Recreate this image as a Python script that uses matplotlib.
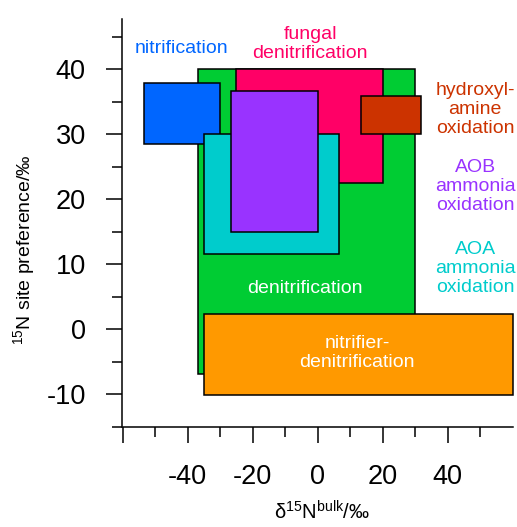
import matplotlib
matplotlib.use("Agg")
import matplotlib.pyplot as plt
from matplotlib.patches import Rectangle

plt.rcParams["font.family"] = ["Liberation Sans", "DejaVu Sans"]
plt.rcParams["mathtext.fontset"] = "custom"
plt.rcParams["mathtext.rm"] = "Liberation Sans"
plt.rcParams["mathtext.it"] = "Liberation Sans:italic"
plt.rcParams["axes.unicode_minus"] = False

# Isotopic signature ranges of N2O production pathways (bulk δ15N and site preference, ‰)
processes = ["denitrification", "fungal denitrification", "nitrification",
             "AOA ammonia oxidation", "AOB ammonia oxidation",
             "hydroxylamine oxidation", "nitrifier-denitrification"]
bulk_min = [-36.8, -25.0, -53.5, -35.0, -26.6, 13.5, -35.0]
bulk_max = [30.0, 20.2, -30.1, 6.6, 0.0, 31.8, 60.2]
sp_min = [-6.9, 22.5, 28.4, 11.6, 15.0, 30.0, -10.1]
sp_max = [40.0, 40.0, 37.9, 30.0, 36.7, 35.8, 2.4]
box_colors = ["#00CC33", "#FF0066", "#0066FF", "#00CCCC", "#9933FF", "#CC3300", "#FF9900"]

# Labels: text, x, y, colour
label_text = ["denitrification", "fungal\ndenitrification", "nitrification",
              "AOA\nammonia\noxidation", "AOB\nammonia\noxidation",
              "hydroxyl-\namine\noxidation", "nitrifier-\ndenitrification"]
label_x = [-3.8, -2.3, -41.9, 48.5, 48.5, 48.5, 12.2]
label_y = [6.2, 43.9, 43.2, 9.3, 21.9, 33.8, -3.7]
label_colors = ["white", "#FF0066", "#0066FF", "#00CCCC", "#9933FF", "#CC3300", "white"]

x_major = [-60, -40, -20, 0, 20, 40]
x_major_labels = ["", "-40", "-20", "0", "20", "40"]
x_minor = [-50, -30, -10, 10, 30, 50]
y_major = [-10, 0, 10, 20, 30, 40]
y_major_labels = ["-10", "0", "10", "20", "30", "40"]
y_minor = [-15, -5, 5, 15, 25, 35, 45]

fig = plt.figure(figsize=(5.17, 5.27), dpi=100)
ax = fig.add_axes([122.5 / 517, (527 - 426.7) / 527, 390 / 517, (426.7 - 19) / 527])
ax.set_xlim(-60, 60)
ax.set_ylim(-15, 47.7)

# draw order: later boxes sit on top
for x0, x1, y0, y1, c in zip(bulk_min, bulk_max, sp_min, sp_max, box_colors):
    ax.add_patch(Rectangle((x0, y0), x1 - x0, y1 - y0, facecolor=c,
                           edgecolor="black", linewidth=1.1, clip_on=False))

for t, x, y, c in zip(label_text, label_x, label_y, label_colors):
    ax.text(x, y, t, color=c, fontsize=14, ha="center", va="center",
            linespacing=1.15, clip_on=False)

for side in ["top", "right"]:
    ax.spines[side].set_visible(False)
for side in ["left", "bottom"]:
    ax.spines[side].set_linewidth(1.1)

ax.set_xticks(x_major)
ax.set_xticklabels(x_major_labels)
ax.set_xticks(x_minor, minor=True)
ax.set_yticks(y_major)
ax.set_yticklabels(y_major_labels)
ax.set_yticks(y_minor, minor=True)
ax.tick_params(which="major", direction="out", length=11.5, width=1.1,
               labelsize=19.5, pad=15, colors="black")
ax.tick_params(which="minor", direction="out", length=7.2, width=1.1)

fig.text(322 / 517, 1 - 519 / 527,
         r"δ$\mathregular{^{15}}$N$\mathregular{^{bulk}}$/‰",
         fontsize=14.5, ha="center", va="baseline")
fig.text(24 / 517, 1 - 250 / 527,
         r"$\mathregular{^{15}}$N site preference/‰",
         fontsize=14, ha="center", va="center", rotation=90)

fig.savefig("out.png", dpi=100)
